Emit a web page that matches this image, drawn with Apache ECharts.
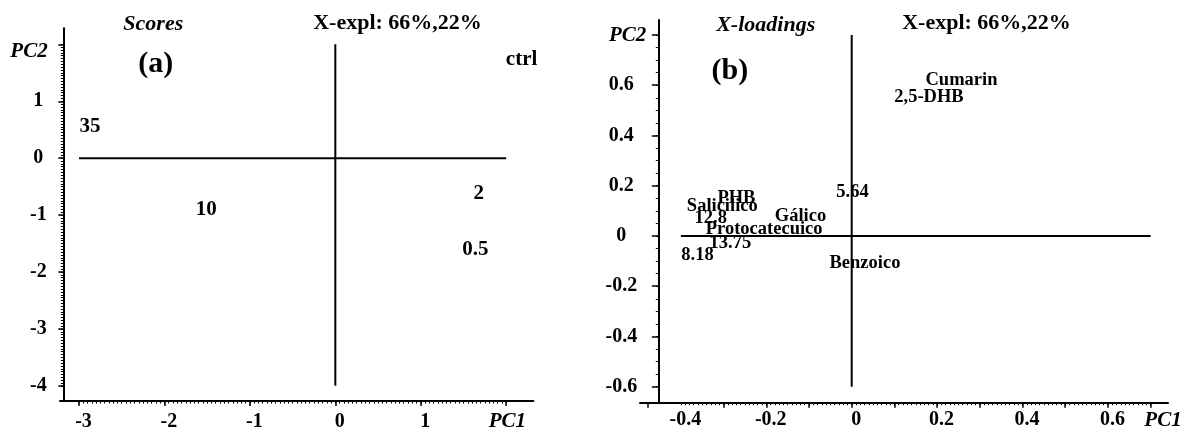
<!DOCTYPE html>
<html>
<head>
<meta charset="utf-8">
<script src="https://cdn.jsdelivr.net/npm/echarts@6/dist/echarts.min.js"></script>
<style>
  html, body { margin: 0; padding: 0; background: #fff; }
  #chart { width: 1184px; height: 432px; }
</style>
</head>
<body>
<div id="chart"></div>
<script>
// (a) Scores: sample positions on PC1 / PC2
const scoreNames = ['ctrl', '35', '10', '2', '0.5'];
const scorePC1 = [2.18, -2.87, -1.51, 1.68, 1.64];
const scorePC2 = [1.73, 0.55, -0.91, -0.63, -1.61];

// (b) X-loadings: variable positions on PC1 / PC2
const loadingNames = ['Cumarin', '2,5-DHB', '5.64', 'PHB', 'Salicilico', '12.8', 'Gálico',
  'Protocatecuico', '13.75', '8.18', 'Benzoico'];
const loadingPC1 = [0.257, 0.181, 0.002, -0.270, -0.303, -0.330, -0.120, -0.205, -0.284, -0.361, 0.031];
const loadingPC2 = [0.620, 0.553, 0.173, 0.150, 0.117, 0.072, 0.080, 0.025, -0.030, -0.078, -0.107];

// Tick marks and tick labels
const scoreXTicks = [-3, -2, -1, 0, 1, 2];
const scoreXLabels = [-3, -2, -1, 0, 1];
const scoreYTicks = [2, 1, 0, -1, -2, -3, -4];
const scoreYLabels = [1, 0, -1, -2, -3, -4];
const loadXTicks = [-0.478, -0.3, -0.2, -0.1, 0, 0.1, 0.2, 0.3, 0.4, 0.5, 0.6, 0.7];
const loadXLabels = [-0.4, -0.2, 0, 0.2, 0.4, 0.6];
const loadYTicks = [0.8, 0.6, 0.4, 0.2, 0, -0.2, -0.4, -0.6];
const loadYLabels = [0.6, 0.4, 0.2, 0, -0.2, -0.4, -0.6];

// Extents of the origin cross lines
const scoreCrossX = [-3, 2];
const scoreCrossY = [-4, 2];
const loadCrossX = [-0.4, 0.7];
const loadCrossY = [-0.6, 0.8];

const FONT = '"Liberation Serif", "Times New Roman", serif';

function stepValues(a, b, step) {
  const out = [];
  const n = Math.round((b - a) / step);
  for (let i = 0; i <= n; i++) out.push(+(a + i * step).toFixed(6));
  return out;
}

function baseAxis(gridIndex, min, max, position, offset) {
  return {
    type: 'value', gridIndex, min, max, position, offset: offset || 0,
    axisLine: { show: false, onZero: false },
    splitLine: { show: false },
    axisLabel: { show: false },
    axisTick: { show: false }
  };
}

function mainAxis(gridIndex, min, max, position, offset, ticks, labels, tickLen, label) {
  const ax = baseAxis(gridIndex, min, max, position, offset);
  ax.axisLine = { show: true, onZero: false, lineStyle: { color: '#000', width: 2 } };
  ax.axisTick = { show: true, customValues: ticks, length: tickLen, lineStyle: { color: '#000', width: 1.5 } };
  ax.axisLabel = Object.assign({
    show: true, customValues: labels, color: '#000',
    fontFamily: FONT, fontWeight: 'bold', fontSize: 20
  }, label);
  return ax;
}

function minorAxis(gridIndex, min, max, position, offset, values) {
  const ax = baseAxis(gridIndex, min, max, position, offset);
  ax.axisTick = { show: true, customValues: values, length: 2.5, lineStyle: { color: '#000', width: 1 } };
  return ax;
}

// axis ranges
const sX = [-3.2224, 2.3183], sY = [-4.266, 2.282];
const lX = [-0.4957, 0.7406], lY = [-0.6637, 0.8597];

const xAxis = [
  mainAxis(0, sX[0], sX[1], 'bottom', 0, scoreXTicks, scoreXLabels, 5,
    { margin: 11, align: 'center', padding: [0, 0, 0, 9] }),
  minorAxis(0, sX[0], sX[1], 'bottom', 0, stepValues(scoreCrossX[0], scoreCrossX[1], 0.05)),
  mainAxis(1, lX[0], lX[1], 'bottom', 0, loadXTicks, loadXLabels, 5,
    { margin: 7, align: 'center', padding: [0, 0, 0, 9] }),
  minorAxis(1, lX[0], lX[1], 'bottom', 0, stepValues(loadCrossX[0], loadCrossX[1], 0.01))
];

const yAxis = [
  mainAxis(0, sY[0], sY[1], 'left', -3.3, scoreYTicks, scoreYLabels, 5,
    { margin: 25, align: 'center', verticalAlign: 'middle', padding: [19, 0, 0, 0] }),
  minorAxis(0, sY[0], sY[1], 'left', -3.3, stepValues(scoreCrossY[0], scoreCrossY[1], 0.05)),
  mainAxis(1, lY[0], lY[1], 'left', -18.3, loadYTicks, loadYLabels, 6.5,
    { margin: 37, align: 'center', verticalAlign: 'middle', padding: [19, 0, 0, 0] }),
  minorAxis(1, lY[0], lY[1], 'left', -18.3, stepValues(loadCrossY[0], loadCrossY[1], 0.05))
];

function crossSeries(xi, yi, xs, ys) {
  const style = { color: '#000', width: 2 };
  return [
    { type: 'line', xAxisIndex: xi, yAxisIndex: yi, symbol: 'none', silent: true,
      lineStyle: style, data: [[xs[0], 0], [xs[1], 0]] },
    { type: 'line', xAxisIndex: xi, yAxisIndex: yi, symbol: 'none', silent: true,
      lineStyle: style, data: [[0, ys[0]], [0, ys[1]]] }
  ];
}

function labelSeries(xi, yi, names, xs, ys, size) {
  return {
    type: 'scatter', xAxisIndex: xi, yAxisIndex: yi, symbolSize: 0,
    itemStyle: { opacity: 1, color: 'rgba(0,0,0,0)' },
    data: names.map((n, i) => ({ name: n, value: [xs[i], ys[i]] })),
    label: {
      show: true, position: 'inside', formatter: '{b}', color: '#000', opacity: 1,
      fontFamily: FONT, fontWeight: 'bold', fontSize: size,
      align: 'center', verticalAlign: 'middle'
    },
    emphasis: { disabled: true }
  };
}

function text(x, y, str, font) {
  return {
    type: 'text', x, y, silent: true,
    style: { text: str, fill: '#000', font, align: 'center', verticalAlign: 'middle' }
  };
}

const titleFont = 'bold 22px ' + FONT;
const italicFont = 'italic bold 22px ' + FONT;
const nameFont = 'italic bold 21px ' + FONT;
const panelFont = 'bold 30px ' + FONT;

const option = {
  animation: false,
  backgroundColor: '#fff',
  grid: [
    { left: 60, top: 28.3, width: 473.4, height: 376, containLabel: false },
    { left: 640, top: 20, width: 528, height: 382.7, containLabel: false }
  ],
  xAxis,
  yAxis,
  series: [
    ...crossSeries(0, 0, scoreCrossX, scoreCrossY),
    labelSeries(0, 0, scoreNames, scorePC1, scorePC2, 21),
    ...crossSeries(2, 2, loadCrossX, loadCrossY),
    labelSeries(2, 2, loadingNames, loadingPC1, loadingPC2, 18.5)
  ],
  graphic: [
    text(153.3, 24, 'Scores', italicFont),
    text(397.5, 23.5, 'X-expl: 66%,22%', titleFont),
    text(155.8, 64, '(a)', panelFont),
    text(29, 51.7, 'PC2', nameFont),
    text(507.4, 421.7, 'PC1', nameFont),
    text(765.7, 25, 'X-loadings', italicFont),
    text(986.5, 23.5, 'X-expl: 66%,22%', titleFont),
    text(729.8, 71.7, '(b)', panelFont),
    text(627.6, 36, 'PC2', nameFont),
    text(1163, 420.7, 'PC1', nameFont)
  ]
};

const chart = echarts.init(document.getElementById('chart'), null, { renderer: 'canvas' });
chart.setOption(option);
</script>
</body>
</html>
